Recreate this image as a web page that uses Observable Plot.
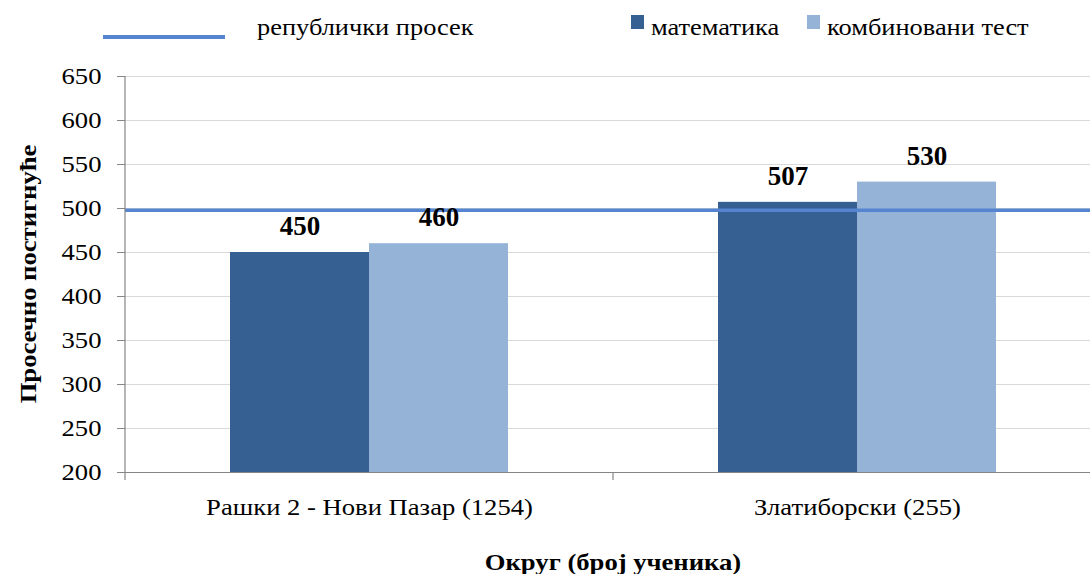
<!DOCTYPE html>
<html>
<head>
<meta charset="utf-8">
<script src="https://cdn.jsdelivr.net/npm/d3@7"></script>
<script src="https://cdn.jsdelivr.net/npm/@observablehq/plot@0.6"></script>
<style>
  body { margin: 0; background: #fff; }
  #wrap { position: relative; width: 1090px; height: 574px; font-family: "Liberation Serif", "Times New Roman", serif; }
  .leg { position: absolute; font-size: 24px; color: #000; line-height: 1; white-space: nowrap; z-index: 2; transform: scaleX(1.1); transform-origin: left center; }
  .sw { position: absolute; z-index: 2; }
  #wrap svg g, #wrap svg text { font-family: "Liberation Serif", "Times New Roman", serif !important; }
  #wrap svg [aria-label^="y-axis"], #wrap svg [aria-label^="fx-axis"] { font-size: 24px !important; }
  [aria-label="y-axis tick"] { color: #868686; }
  [aria-label^="y-axis"] line { stroke: #868686; }
</style>
</head>
<body>
<div id="wrap">
  <div class="sw" id="legLine" style="left:103px; top:35px; width:122px; height:4px;"></div>
  <div class="leg" id="legA" style="left:257px; top:15px;"></div>
  <div class="sw" id="legSw0" style="left:631px; top:15px; width:13px; height:14px;"></div>
  <div class="leg" id="legT0" style="left:651px; top:15px;"></div>
  <div class="sw" id="legSw1" style="left:807px; top:15px; width:13px; height:14px;"></div>
  <div class="leg" id="legT1" style="left:827px; top:15px;"></div>
</div>
<script>
const districts = ["Рашки 2 - Нови Пазар (1254)", "Златиборски (255)"];
const subjects = ["математика", "комбиновани тест"];
const mathValues = [450, 507];
const combinedValues = [460, 530];
const republicAverage = 498;
const yTicks = [200, 250, 300, 350, 400, 450, 500, 550, 600, 650];
const colors = ["#376092", "#95B3D7"];
const avgColor = "#5585D0";
const yTitle = "Просечно постигнуће";
const xTitle = "Округ (број ученика)";
const avgLabel = "републички просек";

const rows = [];
districts.forEach((d, i) => {
  rows.push({district: d, subject: subjects[0], value: mathValues[i]});
  rows.push({district: d, subject: subjects[1], value: combinedValues[i]});
});

const W = 1090, H = 574, mL = 125, mT = 76, mB = 102;

const chart = Plot.plot({
  width: W, height: H,
  marginTop: mT, marginBottom: mB, marginLeft: mL, marginRight: 0,
  style: {fontFamily: "Liberation Serif, Times New Roman, serif", fontSize: "24px", color: "#000", background: "#fff", overflow: "hidden"},
  fx: {domain: districts, range: [mL, 1101], padding: 0, label: null, tickSize: 0, tickPadding: 25},
  x: {domain: subjects, paddingInner: 0, paddingOuter: 0.755, axis: null},
  y: {domain: [yTicks[0], yTicks[yTicks.length - 1]], ticks: yTicks, tickSize: 8, tickPadding: 16, label: null},
  color: {domain: subjects, range: colors},
  marks: [
    Plot.ruleY(yTicks, {stroke: "#d9d9d9", strokeWidth: 1.2}),
    Plot.barY(rows, {fx: "district", x: "subject", y1: () => yTicks[0], y2: "value", fill: "subject", inset: 0}),
    Plot.ruleY([yTicks[0]], {stroke: "#868686", strokeWidth: 1.2}),
    Plot.ruleY([republicAverage], {stroke: avgColor, strokeWidth: 3.5}),
    Plot.text(rows, {fx: "district", x: "subject", y: "value", text: d => String(d.value), dy: -26, fontWeight: "bold", fontSize: 27, fill: "#000"})
  ]
});

const wrap = document.getElementById("wrap");
wrap.insertBefore(chart, wrap.firstChild);
chart.style.position = "absolute";
chart.style.left = "0px";
chart.style.top = "0px";
chart.style.zIndex = "1";

// axis lines, category boundary ticks and titles
const svg = d3.select(chart);
const fxs = chart.scale("fx");
const ys = chart.scale("y");
const yScale = d3.scaleLinear(ys.domain, ys.range);
const band = (fxs.range[1] - fxs.range[0]) / fxs.domain.length;
const yBottom = yScale(yTicks[0]);
const yTop = yScale(yTicks[yTicks.length - 1]);
svg.append("line").attr("x1", fxs.range[0]).attr("x2", fxs.range[0]).attr("y1", yTop).attr("y2", yBottom + 8)
  .attr("stroke", "#868686").attr("stroke-width", 1.2);
for (let i = 1; i <= fxs.domain.length; i++) {
  const xb = fxs.range[0] + band * i;
  svg.append("line").attr("x1", xb).attr("x2", xb).attr("y1", yBottom).attr("y2", yBottom + 8)
    .attr("stroke", "#868686").attr("stroke-width", 1.2);
}

// widen axis texts slightly (reference type is horizontally stretched)
svg.selectAll("text").each(function () {
  if (this.closest('[aria-label="text"]')) return;
  const x = +this.getAttribute("x") || 0;
  const t = this.getAttribute("transform") || "";
  this.setAttribute("transform", `${t} translate(${x},0) scale(1.11,1) translate(${-x},0)`);
});

svg.append("text").attr("transform", `translate(27,${(yTop + yBottom) / 2}) rotate(-90) scale(1.11,1)`)
  .attr("text-anchor", "middle").attr("dominant-baseline", "central")
  .attr("font-weight", "bold").attr("font-size", 24).attr("fill", "#000").text(yTitle);
svg.append("text").attr("transform", `translate(${(fxs.range[0] + fxs.range[1]) / 2},561) scale(1.11,1)`)
  .attr("text-anchor", "middle").attr("dominant-baseline", "central")
  .attr("font-weight", "bold").attr("font-size", 24).attr("fill", "#000").text(xTitle);

// legend
document.getElementById("legLine").style.background = avgColor;
document.getElementById("legA").textContent = avgLabel;
document.getElementById("legSw0").style.background = colors[0];
document.getElementById("legSw1").style.background = colors[1];
document.getElementById("legT0").textContent = subjects[0];
document.getElementById("legT1").textContent = subjects[1];
</script>
</body>
</html>
